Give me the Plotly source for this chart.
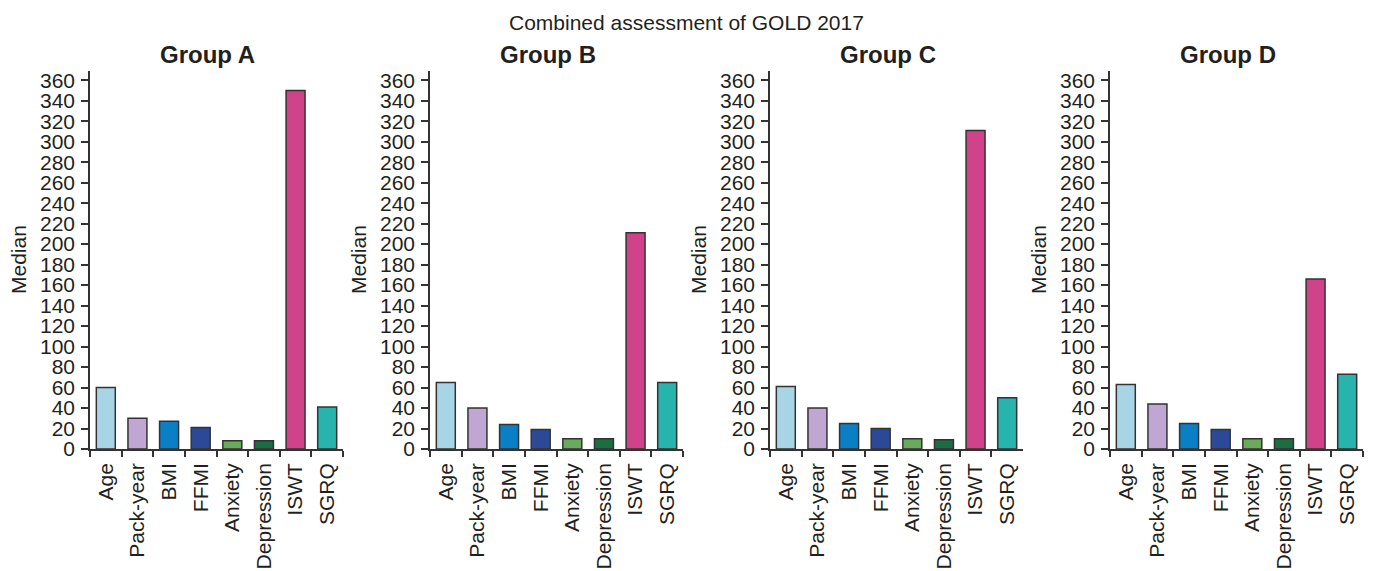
import plotly.graph_objects as go

categories = ["Age", "Pack-year", "BMI", "FFMI", "Anxiety", "Depression", "ISWT", "SGRQ"]
group_names = ["Group A", "Group B", "Group C", "Group D"]
group_a = [60, 30, 27, 21, 8, 8, 350, 41]
group_b = [65, 40, 24, 19, 10, 10, 211, 65]
group_c = [61, 40, 25, 20, 10, 9, 311, 50]
group_d = [63, 44, 25, 19, 10, 10, 166, 73]
bar_colors = ["#a8d5e6", "#c0a6d3", "#0a7fc6", "#2b4996", "#6aaa5c", "#1b6e42", "#d0428a", "#27b3ae"]
y_tick_values = list(range(0, 361, 20))
main_title = "Combined assessment of GOLD 2017"
y_title = "Median"

W, H = 1375, 571
FONT = "Liberation Sans, Arial, Helvetica, sans-serif"
TXT = "#231f20"
AX = "#333333"

groups = [group_a, group_b, group_c, group_d]
left_px = [90, 430, 770, 1110]
plot_w = 253
top_px, bot_px = 71, 449

fig = go.Figure()
for i, (name, vals) in enumerate(zip(group_names, groups)):
    sfx = "" if i == 0 else str(i + 1)
    fig.add_trace(go.Bar(
        x=categories, y=vals, name=name,
        marker=dict(color=bar_colors, line=dict(color=AX, width=1.5)),
        xaxis="x" + sfx, yaxis="y" + sfx, showlegend=False,
    ))
    x0 = left_px[i] / W
    x1 = (left_px[i] + plot_w) / W
    fig.layout["xaxis" + sfx] = dict(
        domain=[x0, x1], anchor="y" + sfx, type="category",
        range=[-0.5, 7.5], tickson="boundaries", ticks="outside", ticklen=6,
        tickwidth=1.5, tickcolor=AX, showline=True, linecolor=AX, linewidth=1.5,
        tickangle=-90, tickfont=dict(size=21, color=TXT, family=FONT),
        ticklabelstandoff=4,
        showgrid=False, zeroline=False, automargin=False, fixedrange=True,
    )
    fig.layout["yaxis" + sfx] = dict(
        domain=[1 - bot_px / H, 1 - top_px / H], anchor="x" + sfx,
        range=[0, 369], tickvals=y_tick_values, ticks="outside", ticklen=7,
        tickwidth=1.5, tickcolor=AX, showline=True, linecolor=AX, linewidth=1.5,
        tickfont=dict(size=21, color=TXT, family=FONT),
        ticklabelstandoff=2,
        showgrid=False, zeroline=False, automargin=False, fixedrange=True,
    )
    fig.add_annotation(
        text="<b>" + name + "</b>", xref="paper", yref="paper",
        x=(left_px[i] + plot_w / 2 - 9) / W, y=1 - 55 / H,
        xanchor="center", yanchor="middle", showarrow=False,
        font=dict(size=24, color=TXT, family=FONT),
    )
    fig.add_annotation(
        text=y_title, xref="paper", yref="paper",
        x=(left_px[i] - 71) / W, y=1 - 260 / H, textangle=-90,
        xanchor="center", yanchor="middle", showarrow=False,
        font=dict(size=21, color=TXT, family=FONT),
    )

fig.add_annotation(
    text=main_title, xref="paper", yref="paper",
    x=686.5 / W, y=1 - 23 / H, xanchor="center", yanchor="middle",
    showarrow=False, font=dict(size=21, color=TXT, family=FONT),
)

fig.update_layout(
    width=W, height=H, template="none",
    margin=dict(l=0, r=0, t=0, b=0),
    paper_bgcolor="white", plot_bgcolor="white",
    bargap=0.4, font=dict(family=FONT, color=TXT),
)
fig.write_html("out.html", config={"displayModeBar": False},
               post_script="document.body.style.margin='0';")
